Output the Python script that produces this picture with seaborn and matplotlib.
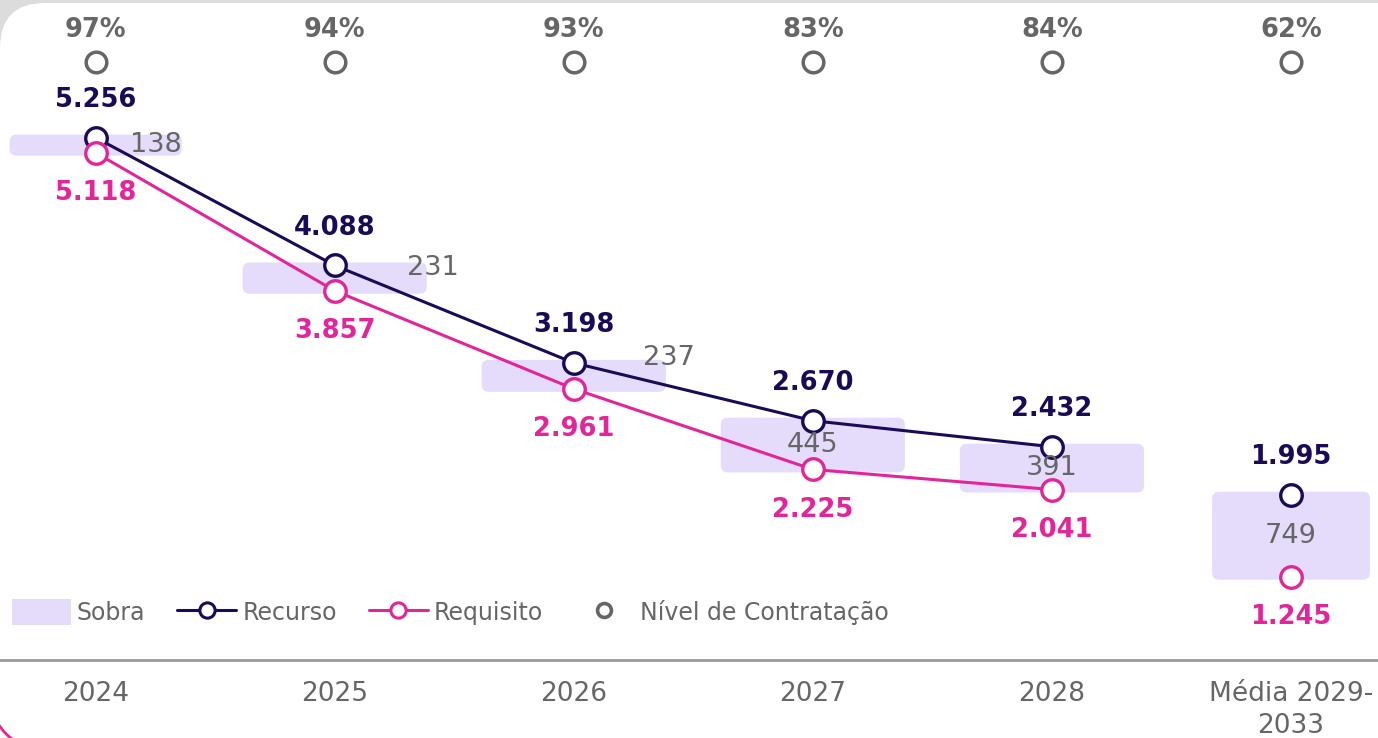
import numpy as np
import matplotlib
matplotlib.use('Agg')
import matplotlib.pyplot as plt
import seaborn as sns
from matplotlib.patches import FancyBboxPatch, Patch, Arc
from matplotlib.lines import Line2D

# chart values
categories = ['2024', '2025', '2026', '2027', '2028', 'Média 2029-\n2033']
recurso = [5256, 4088, 3198, 2670, 2432, 1995]
requisito = [5118, 3857, 2961, 2225, 2041, 1245]
sobra = [138, 231, 237, 445, 391, 749]
nivel = [97, 94, 93, 83, 84, 62]

# colours
c_rec = '#1b0a57'
c_req = '#e4259a'
c_sob = '#e4dcfa'
c_gray = '#666666'

sns.set_style('white')
plt.rcParams['font.family'] = ['DejaVu Sans']

fig = plt.figure(figsize=(13.78, 7.38), dpi=100)
fig.patch.set_facecolor('#dcdcdc')
# white card with rounded top-left corner (screenshot frame)
card = FancyBboxPatch((0, -100), 1500, 835, boxstyle='round,pad=0,rounding_size=45',
                      transform=None, fc='white', ec='none', zorder=-10)
fig.patches.append(card)
fig.patches.append(Arc((45, 43), 110, 110, theta1=210, theta2=240, transform=None,
                       color=c_req, lw=2, zorder=-5))

ax = fig.add_axes([0, 78 / 738, 1, 660 / 738])
ax.set_facecolor('none')
ax.set_zorder(1)

x = np.arange(len(categories))
n_line = 5  # the average point is not joined to the line

# floating bars for the surplus (requisito -> recurso), with softened corners
bar_w = [0.72, 0.77, 0.77, 0.77, 0.77, 0.66]
bars = ax.bar(x, sobra, bottom=requisito, width=bar_w, color=c_sob, zorder=1)
px_x = 1 / 239.0      # data units per pixel along x
px_y = 1 / 0.1095     # data units per pixel along y
for b in bars:
    b.set_visible(False)
    rnd = FancyBboxPatch((b.get_x(), b.get_y() - 3 * px_y), b.get_width(), b.get_height() + 6 * px_y,
                         boxstyle=f'round,pad=0,rounding_size={7 * px_x}',
                         mutation_aspect=px_y / px_x, fc=c_sob, ec='none', zorder=1)
    ax.add_patch(rnd)

# lines
sns.lineplot(x=x[:n_line], y=recurso[:n_line], color=c_rec, lw=2.2, ax=ax, zorder=2)
sns.lineplot(x=x[:n_line], y=requisito[:n_line], color=c_req, lw=2.2, ax=ax, zorder=2)
# markers
sns.scatterplot(x=x, y=recurso, s=240, facecolor='white', edgecolor=c_rec, linewidth=2.4, ax=ax, zorder=3)
sns.scatterplot(x=x, y=requisito, s=240, facecolor='white', edgecolor=c_req, linewidth=2.4, ax=ax, zorder=3)

# hiring level row on top
nivel_y = 5947
sns.scatterplot(x=x, y=[nivel_y] * len(x), s=220, facecolor='white', edgecolor=c_gray, linewidth=2.5, ax=ax, zorder=3)


def fmt(v):
    return f'{v:,}'.replace(',', '.')


for i in x:
    ax.annotate(f'{nivel[i]}%', (i, nivel_y), xytext=(0, 23), textcoords='offset points',
                ha='center', va='center', fontsize=18.5, fontweight='bold', color=c_gray)
    ax.annotate(fmt(recurso[i]), (i, recurso[i]), xytext=(0, 27), textcoords='offset points',
                ha='center', va='center', fontsize=18.5, fontweight='bold', color=c_rec, zorder=5)
    ax.annotate(fmt(requisito[i]), (i, requisito[i]), xytext=(0, -29), textcoords='offset points',
                ha='center', va='center', fontsize=18.5, fontweight='bold', color=c_req, zorder=5)

# surplus labels: small bars get their label beside the bar
lab_dx = [0.25, 0.41, 0.40, 0, 0, 0]
lab_dy = [0, 7, 13, 0, 0, 0]
for i in x:
    mid = requisito[i] + sobra[i] / 2
    ax.annotate(str(sobra[i]), (i + lab_dx[i], mid), xytext=(0, lab_dy[i]), textcoords='offset points',
                ha='center', va='center', fontsize=19.5, color=c_gray, zorder=5)

ax.set_xlim(-0.40, 5.364)
ax.set_ylim(484, 6513)
ax.set_xticks(x)
ax.set_xticklabels(categories, fontsize=19, color=c_gray, linespacing=1.3)
ax.tick_params(axis='x', length=0, pad=15)
ax.set_yticks([])
for s in ['top', 'left', 'right']:
    ax.spines[s].set_visible(False)
ax.spines['bottom'].set_color('#9a9a9a')
ax.spines['bottom'].set_linewidth(2)

handles = [
    Patch(facecolor=c_sob, edgecolor='none'),
    Line2D([], [], color=c_rec, lw=2.2, marker='o', ms=11, mfc='white', mec=c_rec, mew=2.2),
    Line2D([], [], color=c_req, lw=2.2, marker='o', ms=11, mfc='white', mec=c_req, mew=2.2),
    Line2D([], [], color='none', marker='o', ms=10, mfc='white', mec=c_gray, mew=2.6),
]
labels = ['Sobra', 'Recurso', 'Requisito', 'Nível de Contratação']
leg = ax.legend(handles, labels, ncol=4, loc='center left', bbox_to_anchor=(12 / 1378, 1 - 612 / 738),
                bbox_transform=fig.transFigure, frameon=False, fontsize=17,
                handlelength=2.5, handleheight=1.3, handletextpad=0.25, columnspacing=1.35,
                borderpad=0, borderaxespad=0)
for t in leg.get_texts():
    t.set_color(c_gray)

fig.savefig('out.png', dpi=100, facecolor=fig.get_facecolor())
